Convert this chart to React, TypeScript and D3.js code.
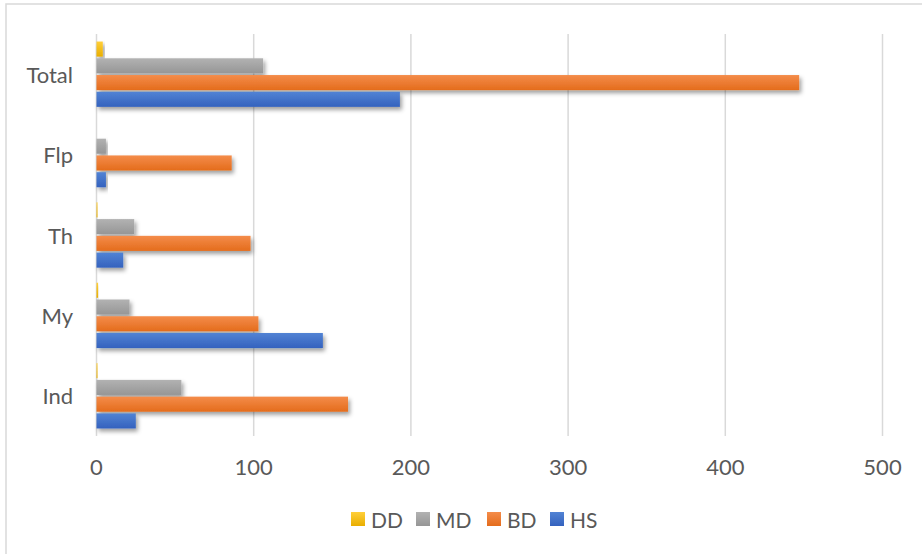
import React from 'react';
import * as d3 from 'd3';

// categories bottom -> top as in the picture
const categories = ['Ind', 'My', 'Th', 'Flp', 'Total'];
const seriesNames = ['DD', 'MD', 'BD', 'HS'];

const ddValues = [0.5, 1, 0.5, 0, 4];
const mdValues = [54, 21, 24, 6, 106];
const bdValues = [160, 103, 98, 86, 447];
const hsValues = [25, 144, 17, 6, 193];

const xTicks = [0, 100, 200, 300, 400, 500];

const colors: Record<string, [string, string]> = {
  DD: ['#FFCF3A', '#E9AE00'],
  MD: ['#B2B2B2', '#969696'],
  BD: ['#F48C4A', '#E46C1C'],
  HS: ['#5283D4', '#3462BE'],
};

const W = 922;
const H = 554;
const plot = { left: 96.5, right: 882.5, top: 34, bottom: 436 };
const font = "Lato, 'Open Sans', sans-serif";
const textColor = '#595959';

export default function App() {
  const valuesBySeries: Record<string, number[]> = {
    DD: ddValues,
    MD: mdValues,
    BD: bdValues,
    HS: hsValues,
  };

  const x = d3.scaleLinear().domain([0, 500]).range([plot.left, plot.right]);
  const y = d3
    .scaleBand<string>()
    .domain([...categories].reverse())
    .range([plot.top, plot.bottom])
    .padding(0);
  const groupH = y.bandwidth() * 0.8125;
  const inner = d3
    .scaleBand<string>()
    .domain(seriesNames)
    .range([0, groupH])
    .paddingInner(0.1)
    .paddingOuter(0);

  const legendItems = [
    { name: 'DD', x: 351 },
    { name: 'MD', x: 416 },
    { name: 'BD', x: 487 },
    { name: 'HS', x: 550 },
  ];

  return (
    <svg
      width={W}
      height={H}
      style={{ position: 'absolute', left: 0, top: 0, background: '#fff' }}
    >
      <defs>
        {seriesNames.map((s) => (
          <linearGradient key={s} id={'g' + s} x1="0" y1="0" x2="0" y2="1">
            <stop offset="0%" stopColor={colors[s][0]} />
            <stop offset="100%" stopColor={colors[s][1]} />
          </linearGradient>
        ))}
        <filter id="shadow" x="-10%" y="-30%" width="130%" height="190%">
          <feDropShadow dx="2" dy="3" stdDeviation="2" floodColor="#000" floodOpacity="0.38" />
        </filter>
      </defs>

      <rect x={6} y={4} width={W + 20} height={H + 20} fill="#fff" stroke="#D9D9D9" strokeWidth={1.5} />

      {/* gridlines */}
      {xTicks.map((t) => (
        <line
          key={t}
          x1={x(t)}
          x2={x(t)}
          y1={plot.top}
          y2={plot.bottom}
          stroke="#D9D9D9"
          strokeWidth={1.5}
        />
      ))}

      {/* bars */}
      {categories.map((c, ci) => {
        const top = (y(c) as number) + (y.bandwidth() - groupH) / 2;
        return (
          <g key={c}>
            {seriesNames.map((s) => {
              const v = valuesBySeries[s][ci];
              if (v <= 0) return null;
              return (
                <rect
                  key={s}
                  x={x(0)}
                  y={top + (inner(s) as number)}
                  width={Math.max(x(v) - x(0), 1)}
                  height={inner.bandwidth()}
                  fill={`url(#g${s})`}
                  filter="url(#shadow)"
                />
              );
            })}
          </g>
        );
      })}

      {/* x tick labels */}
      {xTicks.map((t) => (
        <text
          key={t}
          x={x(t)}
          y={466}
          textAnchor="middle"
          dominantBaseline="central"
          fontFamily={font}
          fontSize={22}
          fill={textColor}
        >
          {t}
        </text>
      ))}

      {/* category labels */}
      {categories.map((c) => (
        <text
          key={c}
          x={73}
          y={(y(c) as number) + y.bandwidth() / 2}
          textAnchor="end"
          dominantBaseline="central"
          fontFamily={font}
          fontSize={22}
          fill={textColor}
        >
          {c}
        </text>
      ))}

      {/* legend */}
      {legendItems.map((l) => (
        <g key={l.name}>
          <rect x={l.x} y={512} width={14} height={14} fill={`url(#g${l.name})`} />
          <text
            x={l.x + 20}
            y={519}
            dominantBaseline="central"
            fontFamily={font}
            fontSize={21}
            fill={textColor}
          >
            {l.name}
          </text>
        </g>
      ))}
    </svg>
  );
}
